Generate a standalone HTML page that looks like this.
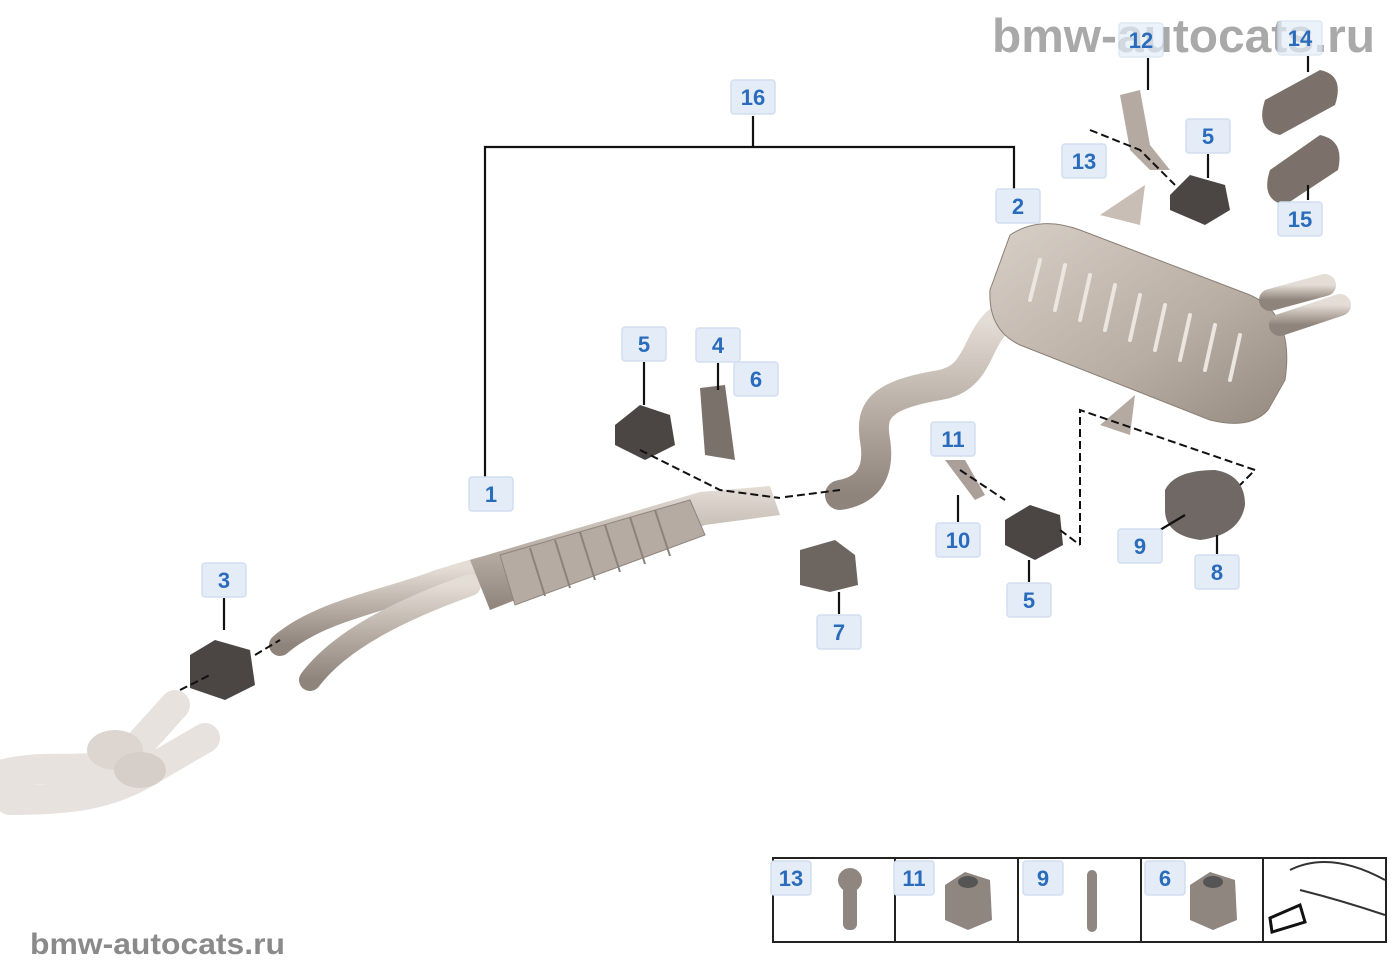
<!DOCTYPE html>
<html><head><meta charset="utf-8"><style>
body{margin:0;background:#fff;width:1400px;height:980px;overflow:hidden;font-family:"Liberation Sans",sans-serif}
svg{position:absolute;left:0;top:0}
.lb rect{fill:#e4edf7;stroke:#d2dff0;stroke-width:1.5}
.lb text{fill:#2a6cbb;font-weight:bold;font-size:22px;text-anchor:middle;font-family:"Liberation Sans",sans-serif}
</style></head><body>
<svg width="1400" height="980" viewBox="0 0 1400 980">
<defs>
<linearGradient id="pg" x1="0" y1="0" x2="0" y2="1"><stop offset="0" stop-color="#e4ddd6"/><stop offset=".5" stop-color="#b9afa6"/><stop offset="1" stop-color="#8e847c"/></linearGradient>
<linearGradient id="mg" x1="0" y1="0" x2="1" y2="1"><stop offset="0" stop-color="#d8cfc6"/><stop offset=".6" stop-color="#b8ada3"/><stop offset="1" stop-color="#958a80"/></linearGradient>
</defs>
<g fill="none" stroke="#e7e2de" stroke-width="30" stroke-linecap="round">
<path d="M0 775 C60 760 90 780 130 755 L175 705"/>
<path d="M10 800 C70 800 110 795 150 770 L205 738"/>
</g>
<ellipse cx="115" cy="750" rx="28" ry="20" fill="#ddd6d0"/><ellipse cx="140" cy="770" rx="26" ry="18" fill="#d6cec8"/>
<g fill="none" stroke="url(#pg)" stroke-width="22" stroke-linecap="round">
<path d="M280 645 C320 610 390 600 440 580 L480 568"/>
<path d="M310 680 C340 640 400 610 470 585"/>
</g>
<path d="M470 560 L700 492 L770 486 L780 515 L705 525 L490 610 Z" fill="url(#pg)"/>
<path d="M500 555 L690 500 L705 535 L515 605 Z" fill="#b5aba2" stroke="#8e857d"/>
<g stroke="#8c8279" stroke-width="2">
<line x1="530" y1="548" x2="545" y2="596"/><line x1="555" y1="540" x2="570" y2="588"/><line x1="580" y1="532" x2="595" y2="580"/><line x1="605" y1="525" x2="620" y2="572"/><line x1="630" y1="517" x2="645" y2="564"/><line x1="655" y1="510" x2="670" y2="556"/></g>
<path d="M840 495 C870 490 880 470 875 440 C870 410 880 395 940 385 C980 378 975 340 1000 320" fill="none" stroke="url(#pg)" stroke-width="30" stroke-linecap="round"/>
<path d="M1010 235 Q1040 215 1080 230 L1250 295 Q1295 315 1285 380 L1268 410 Q1250 430 1210 420 L1020 345 Q988 330 990 290 Z" fill="url(#mg)" stroke="#8a7f76"/>
<g stroke="#ece6e0" stroke-width="4" stroke-linecap="round">
<line x1="1040" y1="260" x2="1030" y2="300"/><line x1="1065" y1="265" x2="1055" y2="310"/><line x1="1090" y1="275" x2="1080" y2="320"/><line x1="1115" y1="285" x2="1105" y2="330"/><line x1="1140" y1="295" x2="1130" y2="340"/><line x1="1165" y1="305" x2="1155" y2="350"/><line x1="1190" y1="315" x2="1180" y2="360"/><line x1="1215" y1="325" x2="1205" y2="370"/><line x1="1240" y1="335" x2="1230" y2="380"/></g>
<g fill="none" stroke="url(#pg)" stroke-width="22" stroke-linecap="round"><path d="M1270 300 L1325 285"/><path d="M1280 325 L1340 305"/></g>
<path d="M1100 215 L1145 185 L1140 225 Z" fill="#c8beb5"/><path d="M1100 425 L1135 395 L1130 435 Z" fill="#b4aaa1"/>
<path d="M1265 100 L1320 70 Q1345 75 1335 105 L1280 135 Q1255 130 1265 100Z" fill="#7b716a"/>
<path d="M1270 170 L1320 135 Q1345 140 1338 170 L1285 205 Q1260 200 1270 170Z" fill="#7b716a"/>
<g fill="#4b4643">
<path d="M615 425 L640 405 L670 415 L675 445 L645 460 L615 445Z"/>
<path d="M1170 195 L1190 175 L1225 185 L1230 210 L1205 225 L1170 210Z"/>
<path d="M1005 520 L1030 505 L1060 515 L1063 545 L1035 560 L1005 545Z"/>
<path d="M190 655 L215 640 L250 650 L255 685 L225 700 L190 688Z"/>
</g>
<path d="M800 550 L835 540 L855 555 L858 585 L830 592 L800 585Z" fill="#6c6560"/>
<path d="M1165 490 Q1175 470 1215 470 Q1245 475 1245 505 Q1240 535 1200 540 Q1165 535 1165 510Z" fill="#706864"/>
<path d="M700 388 L725 385 L735 460 L705 455 Z" fill="#7a716b"/>
<path d="M1120 95 L1140 90 L1150 145 L1170 170 L1150 170 L1130 150 Z" fill="#b4aaa2"/>
<path d="M945 460 L965 460 L985 495 L975 500 Z" fill="#aaa099"/>
<g stroke="#111" stroke-width="2.2" fill="none">
<path d="M753 116 V147 M485 478 V147 H1014 V190"/>
<line x1="224" y1="598" x2="224" y2="630"/>
<line x1="644" y1="362" x2="644" y2="405"/>
<line x1="718" y1="363" x2="718" y2="390"/>
<line x1="958" y1="522" x2="958" y2="495"/>
<line x1="1029" y1="582" x2="1029" y2="560"/>
<line x1="839" y1="614" x2="839" y2="592"/>
<line x1="1217" y1="554" x2="1217" y2="535"/>
<line x1="1148" y1="58" x2="1148" y2="90"/>
<line x1="1308" y1="56" x2="1308" y2="72"/>
<line x1="1208" y1="154" x2="1208" y2="178"/>
<line x1="1308" y1="200" x2="1308" y2="185"/>
<line x1="1160" y1="530" x2="1185" y2="515"/>
</g>
<g stroke="#111" stroke-width="2" fill="none" stroke-dasharray="8 4">
<path d="M640 450 L720 490 L780 498 M785 497 L840 490"/>
<path d="M180 690 L210 675 M255 655 L280 640"/>
<path d="M1080 545 V410 L1255 470 L1240 485"/>
<path d="M1090 130 L1140 150 L1175 185"/>
<path d="M960 470 L1005 500 M1060 530 L1080 545"/>
</g>
<rect x="773" y="858" width="613" height="84" fill="#fff" stroke="#222" stroke-width="2"/>
<g stroke="#222" stroke-width="2"><line x1="895" y1="858" x2="895" y2="942"/><line x1="1018" y1="858" x2="1018" y2="942"/><line x1="1141" y1="858" x2="1141" y2="942"/><line x1="1263" y1="858" x2="1263" y2="942"/></g>
<g fill="#8f8680">
<rect x="843" y="885" width="14" height="45" rx="6"/><circle cx="850" cy="880" r="12"/>
<path d="M945 885 L965 872 L990 880 L992 920 L968 930 L945 920Z"/>
<rect x="1087" y="870" width="10" height="62" rx="5"/>
<path d="M1190 885 L1210 872 L1235 880 L1237 920 L1213 930 L1190 920Z"/>
</g>
<ellipse cx="968" cy="882" rx="10" ry="6" fill="#555"/><ellipse cx="1213" cy="882" rx="10" ry="6" fill="#555"/>
<path d="M1290 870 Q1330 850 1385 880 M1300 890 Q1340 900 1385 915" stroke="#333" stroke-width="2" fill="none"/>
<path d="M1300 905 L1270 918 L1272 932 L1305 922Z" fill="#fff" stroke="#111" stroke-width="3"/>
<g class="lb">
<g transform="translate(753,97)"><rect x="-22" y="-17" width="44" height="34" rx="3"/><text y="8">16</text></g>
<g transform="translate(1018,206)"><rect x="-22" y="-17" width="44" height="34" rx="3"/><text y="8">2</text></g>
<g transform="translate(491,494)"><rect x="-22" y="-17" width="44" height="34" rx="3"/><text y="8">1</text></g>
<g transform="translate(224,580)"><rect x="-22" y="-17" width="44" height="34" rx="3"/><text y="8">3</text></g>
<g transform="translate(644,344)"><rect x="-22" y="-17" width="44" height="34" rx="3"/><text y="8">5</text></g>
<g transform="translate(718,345)"><rect x="-22" y="-17" width="44" height="34" rx="3"/><text y="8">4</text></g>
<g transform="translate(756,379)"><rect x="-22" y="-17" width="44" height="34" rx="3"/><text y="8">6</text></g>
<g transform="translate(953,439)"><rect x="-22" y="-17" width="44" height="34" rx="3"/><text y="8">11</text></g>
<g transform="translate(958,540)"><rect x="-22" y="-17" width="44" height="34" rx="3"/><text y="8">10</text></g>
<g transform="translate(1029,600)"><rect x="-22" y="-17" width="44" height="34" rx="3"/><text y="8">5</text></g>
<g transform="translate(839,632)"><rect x="-22" y="-17" width="44" height="34" rx="3"/><text y="8">7</text></g>
<g transform="translate(1140,546)"><rect x="-22" y="-17" width="44" height="34" rx="3"/><text y="8">9</text></g>
<g transform="translate(1217,572)"><rect x="-22" y="-17" width="44" height="34" rx="3"/><text y="8">8</text></g>
<g transform="translate(1084,161)"><rect x="-22" y="-17" width="44" height="34" rx="3"/><text y="8">13</text></g>
<g transform="translate(1208,136)"><rect x="-22" y="-17" width="44" height="34" rx="3"/><text y="8">5</text></g>
<g transform="translate(1300,219)"><rect x="-22" y="-17" width="44" height="34" rx="3"/><text y="8">15</text></g>
<g transform="translate(791,878)"><rect x="-20" y="-17" width="40" height="34" rx="3"/><text y="8">13</text></g>
<g transform="translate(914,878)"><rect x="-20" y="-17" width="40" height="34" rx="3"/><text y="8">11</text></g>
<g transform="translate(1043,878)"><rect x="-20" y="-17" width="40" height="34" rx="3"/><text y="8">9</text></g>
<g transform="translate(1165,878)"><rect x="-20" y="-17" width="40" height="34" rx="3"/><text y="8">6</text></g>
</g>
<text x="992" y="52" font-size="47" font-weight="bold" fill="#a9a9a9" textLength="383" lengthAdjust="spacingAndGlyphs" font-family="Liberation Sans,sans-serif">bmw-autocats.ru</text>
<g class="lb">
<g transform="translate(1141,40)"><rect x="-22" y="-17" width="44" height="34" rx="3" opacity=".7"/><text y="8">12</text></g>
<g transform="translate(1300,38)"><rect x="-22" y="-17" width="44" height="34" rx="3" opacity=".7"/><text y="8">14</text></g>
</g>
<text x="30" y="954" font-size="30" font-weight="bold" fill="#8a8a8a" textLength="255" lengthAdjust="spacingAndGlyphs" font-family="Liberation Sans,sans-serif">bmw-autocats.ru</text>
</svg>
</body></html>
